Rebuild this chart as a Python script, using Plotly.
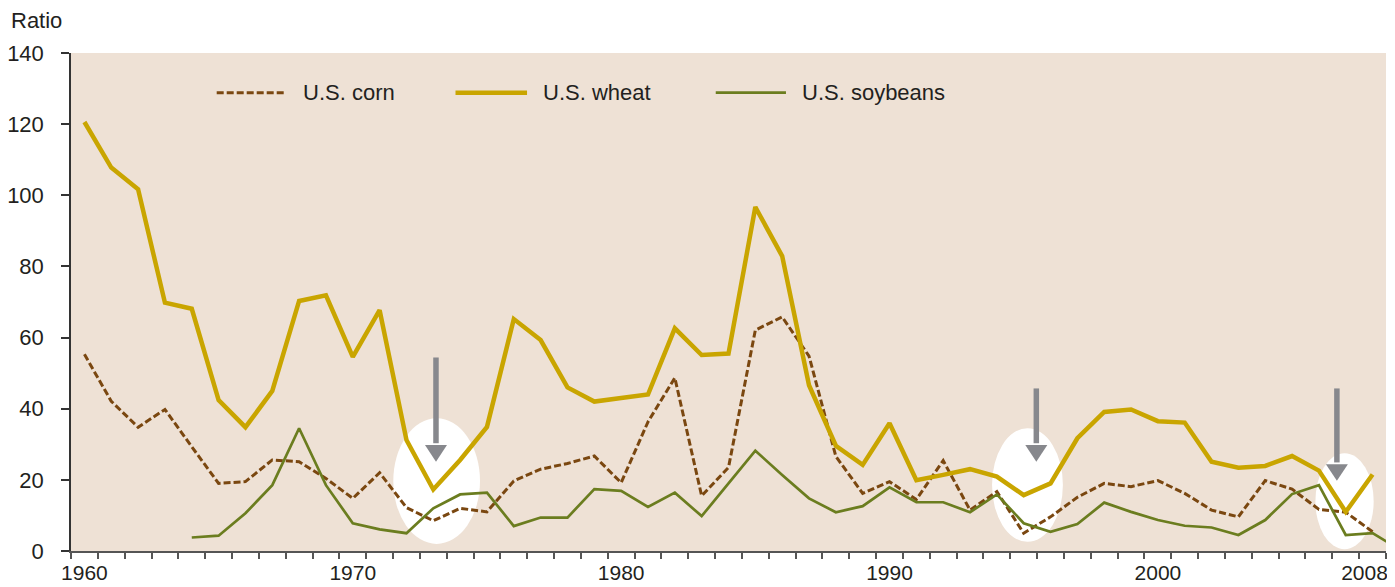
import plotly.graph_objects as go

# Stocks-to-use ratio, 1960-2008 (soybean series starts 1964, runs one step past 2008)
years = list(range(1960, 2010))

wheat = [120.6, 107.8, 101.7, 69.8, 68.1, 42.4, 34.8, 45.0, 70.3, 71.9,
         54.6, 67.7, 31.2, 17.3, 25.6, 34.9, 65.2, 59.3, 46.0, 42.0,
         43.0, 44.0, 62.6, 55.1, 55.5, 96.7, 82.9, 46.6, 29.6, 24.2,
         35.9, 19.9, 21.4, 23.0, 20.9, 15.7, 19.0, 31.7, 39.1, 39.8,
         36.5, 36.1, 25.1, 23.4, 23.9, 26.7, 22.6, 11.0, 21.5, None]

corn = [55.3, 42.1, 34.8, 39.8, 29.3, 19.0, 19.5, 25.6, 25.1, 20.4,
        14.8, 22.0, 12.2, 8.5, 12.0, 11.0, 19.7, 23.0, 24.6, 26.7,
        19.2, 36.3, 48.7, 15.5, 23.5, 62.1, 65.8, 54.8, 26.6, 16.2,
        19.5, 14.5, 25.4, 11.5, 16.7, 5.0, 9.6, 15.1, 19.0, 18.1,
        19.8, 16.2, 11.5, 9.6, 19.8, 17.4, 11.7, 10.9, 5.4, None]

soybeans = [None, None, None, None, 3.8, 4.3, 10.6, 18.5, 34.5, 18.5,
            7.8, 6.1, 5.0, 12.0, 15.9, 16.4, 7.0, 9.4, 9.4, 17.4,
            16.9, 12.4, 16.4, 9.8, 19.0, 28.2, 21.4, 14.8, 10.9, 12.6,
            17.9, 13.7, 13.7, 10.9, 15.9, 7.8, 5.4, 7.6, 13.6, 11.0,
            8.7, 7.1, 6.6, 4.5, 8.7, 16.0, 18.5, 4.5, 5.0, 0.5]

tick_labels = ['1960', '1970', '1980', '1990', '2000', '2008']

CORN = '#7a4710'
WHEAT = '#c9a500'
SOY = '#6b7d1f'
ARROW = '#87888d'
BG = '#eee1d5'
FONT = 'Liberation Sans, Arial, sans-serif'

fig = go.Figure()

fig.add_trace(go.Scatter(x=years, y=corn, mode='lines', name='U.S. corn',
                         line=dict(color=CORN, width=3, dash='7px,3px')))
fig.add_trace(go.Scatter(x=years, y=wheat, mode='lines', name='U.S. wheat',
                         line=dict(color=WHEAT, width=4.5)))
fig.add_trace(go.Scatter(x=years, y=soybeans, mode='lines', name='U.S. soybeans',
                         line=dict(color=SOY, width=2.7)))

shapes = []
# white highlight ellipses behind the lines
for x0, x1, y0, y1 in [(1971.51, 1974.74, 2.0, 37.3),
                       (1993.82, 1996.46, 2.6, 34.5),
                       (2005.87, 2008.04, 0.5, 27.5)]:
    shapes.append(dict(type='circle', xref='x', yref='y', x0=x0, x1=x1, y0=y0, y1=y1,
                       fillcolor='white', line=dict(width=0), layer='below'))

# grey arrows pointing at the lows
for ax, top, head, tip in [(1973.1, 54.4, 29.8, 25.1),
                           (1995.47, 45.7, 29.8, 25.1),
                           (2006.67, 45.7, 24.4, 19.75)]:
    shapes.append(dict(type='line', xref='x', yref='y', x0=ax, x1=ax, y0=top, y1=head + 0.5,
                       line=dict(color=ARROW, width=5.5)))
    shapes.append(dict(type='path', xref='x', yref='y',
                       path=f'M {ax - 0.41},{head} L {ax + 0.41},{head} L {ax},{tip} Z',
                       fillcolor=ARROW, line=dict(width=0)))

# hand-drawn legend (long line samples like the original)
legend_items = [('U.S. corn', CORN, 3, '7px,3px', 0.1108, 0.1640),
                ('U.S. wheat', WHEAT, 4.5, 'solid', 0.2924, 0.3468),
                ('U.S. soybeans', SOY, 2.7, 'solid', 0.4903, 0.5437)]
annotations = []
ly = 0.9203
for label, color, w, dash, lx0, lx1 in legend_items:
    shapes.append(dict(type='line', xref='paper', yref='paper', x0=lx0, x1=lx1, y0=ly, y1=ly,
                       line=dict(color=color, width=w, dash=dash)))
    annotations.append(dict(xref='paper', yref='paper', x=lx1 + 0.0107, y=ly,
                            xanchor='left', yanchor='middle', showarrow=False,
                            text=label, font=dict(size=22, color='#231f20', family=FONT)))

annotations.append(dict(xref='paper', yref='paper', x=-0.0473, y=1.066,
                        xanchor='left', yanchor='middle', showarrow=False,
                        text='Ratio', font=dict(size=22, color='#231f20', family=FONT)))

# page body adds an 8px offset, so the figure is 8px smaller than the window
fig.update_layout(
    width=1387, height=579,
    margin=dict(l=63, r=9, t=45, b=36, autoexpand=False),
    paper_bgcolor='white',
    plot_bgcolor=BG,
    showlegend=False,
    font=dict(family=FONT, size=22, color='#231f20'),
    shapes=shapes,
    annotations=annotations,
    xaxis=dict(
        range=[1959.5, 2008.5], automargin=False,
        # last label sits a touch left of its year so it stays on the page
        tickmode='array', tickvals=[1960, 1970, 1980, 1990, 2000, 2007.7], ticktext=tick_labels,
        ticks='', showgrid=False, zeroline=False, ticklabeloverflow='allow',
        showline=True, linecolor='#555555', linewidth=2,
        tickfont=dict(size=21),
        ticklabelstandoff=2,
        minor=dict(tickmode='linear', tick0=1959.5, dtick=1, ticks='outside',
                   ticklen=6, tickwidth=1.5, tickcolor='#555555', showgrid=False),
    ),
    yaxis=dict(
        range=[0, 140], automargin=False, tickmode='linear', tick0=0, dtick=20,
        ticks='outside', ticklen=8, tickwidth=1.5, tickcolor='#333333',
        showgrid=False, zeroline=False,
        showline=True, linecolor='#333333', linewidth=1.5,
        ticklabelstandoff=13,
    ),
)

fig.write_html("out.html")
